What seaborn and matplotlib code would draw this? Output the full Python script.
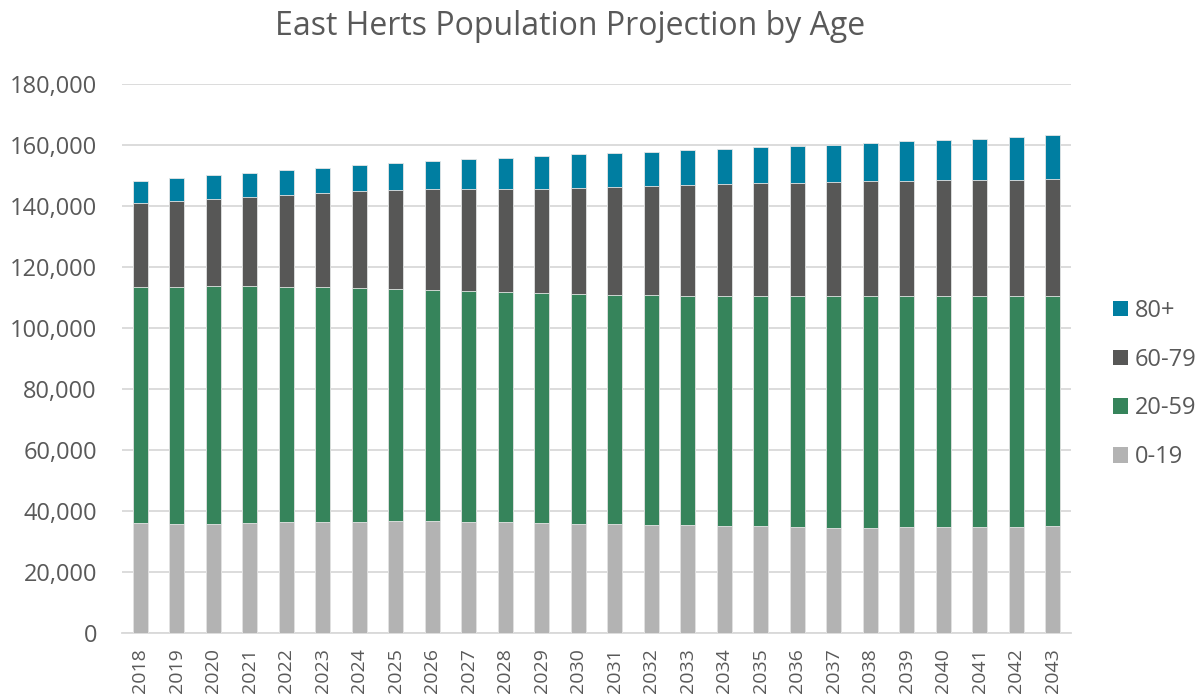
import matplotlib
matplotlib.use("Agg")
import matplotlib.pyplot as plt
from matplotlib.patches import Patch
import numpy as np
import pandas as pd
import seaborn as sns

years = [str(y) for y in range(2018, 2044)]

# population by age band (people)
age_0_19 = [36000, 35600, 35700, 36000, 36300, 36400, 36500, 36600, 36600, 36500,
            36400, 36100, 35800, 35600, 35500, 35300, 35200, 35000, 34800, 34500,
            34500, 34600, 34600, 34700, 34900, 35100]
age_20_59 = [77400, 77800, 78000, 77700, 77100, 76900, 76500, 76100, 75800, 75500,
             75300, 75300, 75300, 75200, 75200, 75200, 75300, 75500, 75700, 76000,
             76000, 75900, 75900, 75800, 75600, 75400]
age_60_79 = [27500, 28100, 28500, 29400, 30300, 30900, 31800, 32400, 33100, 33500,
             33800, 34300, 34800, 35300, 35900, 36300, 36600, 36900, 37100, 37300,
             37600, 37800, 37900, 38000, 38100, 38300]
age_80_plus = [7400, 7700, 7900, 7800, 8200, 8400, 8600, 9000, 9300, 9800,
               10300, 10800, 11000, 11200, 11100, 11500, 11600, 11800, 12100, 12300,
               12600, 12900, 13200, 13600, 14000, 14400]

bands = ["80+", "60-79", "20-59", "0-19"]
colors = {"80+": "#007EA1", "60-79": "#575756", "20-59": "#36845B", "0-19": "#B3B3B3"}

df = pd.DataFrame({"year": years, "0-19": age_0_19, "20-59": age_20_59,
                   "60-79": age_60_79, "80+": age_80_plus})
# cumulative tops so bars can be overlaid from tallest to shortest
df["top_0-19"] = df["0-19"]
df["top_20-59"] = df["top_0-19"] + df["20-59"]
df["top_60-79"] = df["top_20-59"] + df["60-79"]
df["top_80+"] = df["top_60-79"] + df["80+"]

sns.set_theme(style="white")
plt.rcParams["font.family"] = ["Open Sans", "DejaVu Sans"]
text_col = "#595959"

fig = plt.figure(figsize=(12.01, 6.97), dpi=100)
ax = fig.add_axes([122 / 1201, 1 - 633 / 697, 949 / 1201, (633 - 84) / 697])

for b in bands:
    sns.barplot(data=df, x="year", y="top_" + b, color=colors[b], width=0.42,
                edgecolor="#E6E6E6", linewidth=0.6, saturation=1, ax=ax, zorder=3)

ax.set_ylim(0, 180000)
ax.set_xlim(-0.5, len(years) - 0.5)
ax.set_yticks(np.arange(0, 180001, 20000))
ax.yaxis.set_major_formatter(matplotlib.ticker.FuncFormatter(lambda v, p: f"{int(v):,}"))
ax.grid(axis="y", color="#D9D9D9", linewidth=1.3, zorder=0)
ax.set_axisbelow(True)
for s in ["top", "right", "left"]:
    ax.spines[s].set_visible(False)
ax.spines["bottom"].set_color("#D9D9D9")
ax.spines["bottom"].set_linewidth(1.3)
ax.set_xlabel("")
ax.set_ylabel("")
ax.tick_params(axis="y", length=0, pad=18, labelsize=17, labelcolor=text_col)
ax.tick_params(axis="x", length=0, pad=11, labelsize=14, labelcolor=text_col, rotation=90)

handles = [Patch(facecolor=colors[b], edgecolor="none") for b in bands]
leg = fig.legend(handles, bands, loc="center left", bbox_to_anchor=(1113 / 1201, 1 - 384 / 697),
                 frameon=False, fontsize=17, labelspacing=1.05, handlelength=0.62,
                 handleheight=0.62, handletextpad=0.3, borderpad=0, borderaxespad=0)
for t in leg.get_texts():
    t.set_color(text_col)

fig.text(570 / 1201, 1 - 35 / 697, "East Herts Population Projection by Age",
         ha="center", va="baseline", fontsize=23, color=text_col)

fig.savefig("out.png", dpi=100)
